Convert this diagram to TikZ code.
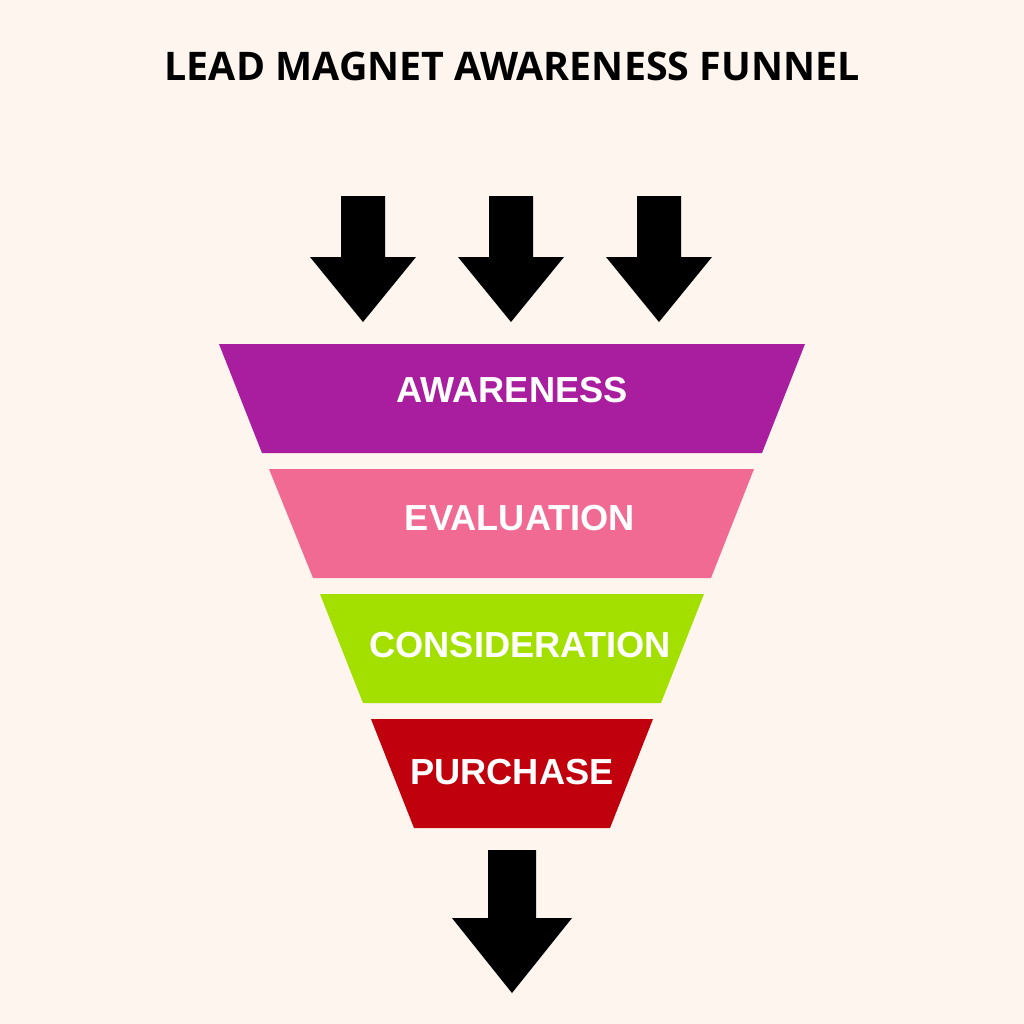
\documentclass[tikz,border=0pt]{standalone}
\usepackage{fontspec}
\setmainfont{Liberation Sans}
\newfontfamily\titlefont{Open Sans}
\definecolor{bgcream}{HTML}{FDF5EE}
\definecolor{stagepurple}{HTML}{A91D9F}
\definecolor{stagepink}{HTML}{F06A93}
\definecolor{stagegreen}{HTML}{A3E000}
\definecolor{stagered}{HTML}{C0000C}
\tikzset{
  stage/.style={font=\bfseries\fontsize{10.3}{12}\selectfont, text=white},
  blockarrow/.style={fill=black}
}
\begin{document}
\begin{tikzpicture}[x=0.01cm, y=-0.01cm]
      \fill[bgcream] (0,0) rectangle (1024,1024);
      \useasboundingbox (0,0) rectangle (1024,1024);
      \node[font=\titlefont\bfseries\fontsize{11.2}{13}\selectfont] (title) at (512,66) {LEAD MAGNET AWARENESS FUNNEL};
      % arrows into the funnel
      \foreach \cx in {363,511,659} {
        \fill[blockarrow] (\cx-22,196) -- (\cx+22,196) -- (\cx+22,257) -- (\cx+53,257)
          -- (\cx,322) -- (\cx-53,257) -- (\cx-22,257) -- cycle;
      }
      % funnel bands
      \fill[stagepurple] (219,344) -- (805,344) -- (762,453) -- (262,453) -- cycle;
      \fill[stagepink] (269,469) -- (754,469) -- (711,578) -- (313,578) -- cycle;
      \fill[stagegreen] (320,594) -- (704,594) -- (661,703) -- (363,703) -- cycle;
      \fill[stagered] (371,719) -- (653,719) -- (610,828) -- (414,828) -- cycle;
      \node[stage] (awareness) at (512,390) {AWARENESS};
      \node[stage] (evaluation) at (520,518) {EVALUATION};
      \node[stage] (consideration) at (520,645) {CONSIDERATION};
      \node[stage] (purchase) at (512,772) {PURCHASE};
      % arrow out
      \fill[blockarrow] (488,850) -- (536,850) -- (536,918) -- (572,918) -- (512,993)
        -- (452,918) -- (488,918) -- cycle;
\end{tikzpicture}
\end{document}
